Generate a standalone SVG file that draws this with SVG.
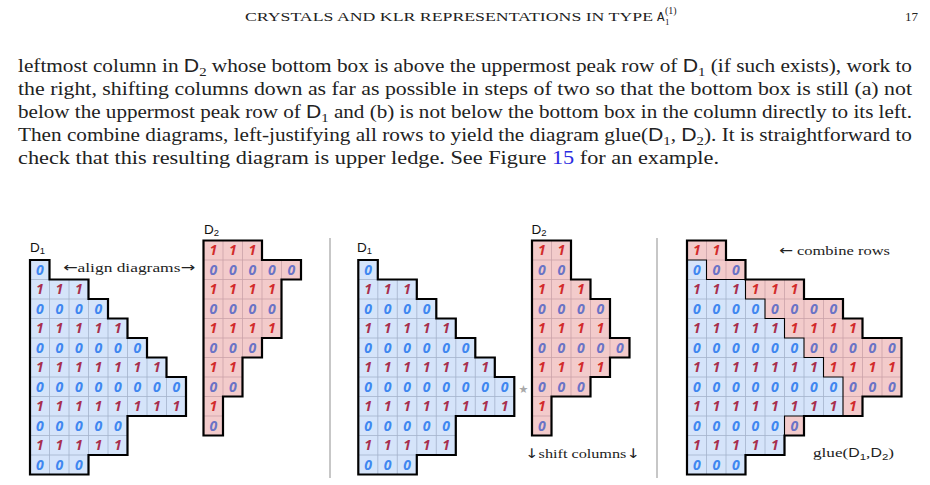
<svg xmlns="http://www.w3.org/2000/svg" xmlns:xlink="http://www.w3.org/1999/xlink" width="930" height="485" viewBox="0 0 930 485">
<style>
.bf{fill:#d5e4fa}
.rf{fill:#f3cbcb}
.bg{fill:none;stroke:#a3b3cc;stroke-width:0.8}
.rg{fill:none;stroke:#caa2a8;stroke-width:0.8}
.ol{fill:none;stroke:#000;stroke-width:2.2;stroke-linejoin:miter}
.il{fill:none;stroke:#000;stroke-width:1.1}
.dg{font-family:"Open Sans","Noto Sans",sans-serif;font-weight:bold;font-style:italic;font-size:14px;text-anchor:middle}
.b0{fill:#3f87f0}.b1{fill:#a8304e}.r1{fill:#d22b2b}.r0{fill:#6a73c6}
.serif{font-family:"Liberation Serif","Times New Roman",serif;fill:#222}
.sf{font-family:"Liberation Sans",Arial,sans-serif}
.ar{font-family:"DejaVu Sans",sans-serif}
.lab{font-family:"Liberation Sans",Arial,sans-serif;font-size:13.5px;fill:#111}
.sep{stroke:#b5b5b5;stroke-width:1.5}
</style>
<defs>
<path id="d1p" d="M0,0 H19.5 V19.5 H58.5 V39 H78 V58.5 H97.5 V78 H117 V97.5 H136.5 V117 H156 V156 H97.5 V195 H58.5 V214.5 H0 Z"/>
<path id="d2p" d="M0,0 H58.5 V19.5 H97.5 V39 H78 V97.5 H58.5 V117 H39 V156 H19.5 V195 H0 Z"/>
<path id="d2sp" d="M0,0 H39 V39 H58.5 V58.5 H78 V97.5 H97.5 V117 H78 V136.5 H58.5 V156 H19.5 V195 H0 Z"/>
<path id="gp" d="M0,0 H39 V19.5 H58.5 V39 H117 V58.5 H156 V78 H175.5 V97.5 H214.5 V156 H175.5 V175.5 H117 V195 H97.5 V214.5 H58.5 V234 H0 Z"/>
<g id="D1body">
<use xlink:href="#d1p" class="bf"/>
<path class="bg" d="M19.5,19.5 V214.5 M39,19.5 V214.5 M58.5,39 V195 M78,58.5 V195 M97.5,78 V156 M117,97.5 V156 M136.5,117 V156 M0,19.5 H19.5 M0,39 H58.5 M0,58.5 H78 M0,78 H97.5 M0,97.5 H117 M0,117 H136.5 M0,136.5 H156 M0,156 H97.5 M0,175.5 H97.5 M0,195 H58.5"/>
<text class="dg b0" x="9.75" y="14.75">0</text>
<text class="dg b1" x="9.75 29.25 48.75" y="34.25">111</text>
<text class="dg b0" x="9.75 29.25 48.75 68.25" y="53.75">0000</text>
<text class="dg b1" x="9.75 29.25 48.75 68.25 87.75" y="73.25">11111</text>
<text class="dg b0" x="9.75 29.25 48.75 68.25 87.75 107.25" y="92.75">000000</text>
<text class="dg b1" x="9.75 29.25 48.75 68.25 87.75 107.25 126.75" y="112.25">1111111</text>
<text class="dg b0" x="9.75 29.25 48.75 68.25 87.75 107.25 126.75 146.25" y="131.75">00000000</text>
<text class="dg b1" x="9.75 29.25 48.75 68.25 87.75 107.25 126.75 146.25" y="151.25">11111111</text>
<text class="dg b0" x="9.75 29.25 48.75 68.25 87.75" y="170.75">00000</text>
<text class="dg b1" x="9.75 29.25 48.75 68.25 87.75" y="190.25">11111</text>
<text class="dg b0" x="9.75 29.25 48.75" y="209.75">000</text>
</g>
</defs>

<g id="header">
<text class="serif" x="245" y="21" font-size="12.5" textLength="408" lengthAdjust="spacingAndGlyphs">CRYSTALS AND KLR REPRESENTATIONS IN TYPE</text>
<text x="657" y="21" font-family="Liberation Mono,monospace" font-size="12.5" fill="#222">A</text>
<text class="serif" x="665" y="24.5" font-size="9">1</text>
<text class="serif" x="665" y="14" font-size="10">(1)</text>
<text class="serif" x="905" y="21" font-size="13">17</text>
</g>

<g id="paragraph" class="serif" font-size="18">
<text x="18" y="72" textLength="894" lengthAdjust="spacingAndGlyphs">leftmost column in <tspan class="sf">D</tspan><tspan font-size="12.5" dy="3.5">2</tspan><tspan dy="-3.5"> whose bottom box is above the uppermost peak row of </tspan><tspan class="sf">D</tspan><tspan font-size="12.5" dy="3.5">1</tspan><tspan dy="-3.5"> (if such exists), work to</tspan></text>
<text x="18" y="95" textLength="894" lengthAdjust="spacingAndGlyphs">the right, shifting columns down as far as possible in steps of two so that the bottom box is still (a) not</text>
<text x="18" y="118" textLength="894" lengthAdjust="spacingAndGlyphs">below the uppermost peak row of <tspan class="sf">D</tspan><tspan font-size="12.5" dy="3.5">1</tspan><tspan dy="-3.5"> and (b) is not below the bottom box in the column directly to its left.</tspan></text>
<text x="18" y="141" textLength="894" lengthAdjust="spacingAndGlyphs">Then combine diagrams, left-justifying all rows to yield the diagram glue(<tspan class="sf">D</tspan><tspan font-size="12.5" dy="3.5">1</tspan><tspan dy="-3.5">, </tspan><tspan class="sf">D</tspan><tspan font-size="12.5" dy="3.5">2</tspan><tspan dy="-3.5">). It is straightforward to</tspan></text>
<text x="18" y="164" textLength="701" lengthAdjust="spacingAndGlyphs">check that this resulting diagram is upper ledge. See Figure <tspan fill="#2a2ae0">15</tspan> for an example.</text>
</g>

<g id="separators">
<line class="sep" x1="330" y1="238" x2="330" y2="478"/>
<line class="sep" x1="657" y1="238" x2="657" y2="478"/>
</g>

<g id="p1-D1" transform="translate(30,260)">
<use xlink:href="#D1body"/>
<use xlink:href="#d1p" class="ol"/>
</g>
<text id="p1-D1-label" class="lab" x="30" y="251.5">D<tspan font-size="9.5" dy="2.5">1</tspan></text>

<g id="p1-D2" transform="translate(203.5,240.5)">
<use xlink:href="#d2p" class="rf"/>
<path class="rg" d="M19.5,0 V156 M39,0 V117 M58.5,19.5 V97.5 M78,19.5 V39 M0,19.5 H58.5 M0,39 H78 M0,58.5 H78 M0,78 H78 M0,97.5 H58.5 M0,117 H39 M0,136.5 H39 M0,156 H19.5 M0,175.5 H19.5"/>
<text class="dg r1" x="9.75 29.25 48.75" y="14.75">111</text>
<text class="dg r0" x="9.75 29.25 48.75 68.25 87.75" y="34.25">00000</text>
<text class="dg r1" x="9.75 29.25 48.75 68.25" y="53.75">1111</text>
<text class="dg r0" x="9.75 29.25 48.75 68.25" y="73.25">0000</text>
<text class="dg r1" x="9.75 29.25 48.75 68.25" y="92.75">1111</text>
<text class="dg r0" x="9.75 29.25 48.75" y="112.25">000</text>
<text class="dg r1" x="9.75 29.25" y="131.75">11</text>
<text class="dg r0" x="9.75 29.25" y="151.25">00</text>
<text class="dg r1" x="9.75" y="170.75">1</text>
<text class="dg r0" x="9.75" y="190.25">0</text>
<use xlink:href="#d2p" class="ol"/>
</g>
<text id="p1-D2-label" class="lab" x="204" y="233.5">D<tspan font-size="9.5" dy="2.5">2</tspan></text>
<text id="align-label" class="serif" x="63" y="272" font-size="13.5" textLength="132" lengthAdjust="spacingAndGlyphs"><tspan class="ar">←</tspan>align diagrams<tspan class="ar">→</tspan></text>

<g id="p2-D1" transform="translate(358.3,260)">
<use xlink:href="#D1body"/>
<use xlink:href="#d1p" class="ol"/>
</g>
<text id="p2-D1-label" class="lab" x="357" y="251.5">D<tspan font-size="9.5" dy="2.5">1</tspan></text>
<text id="star" x="523.5" y="392.5" font-family="DejaVu Sans,sans-serif" font-size="11" fill="#a8a8a8" text-anchor="middle">★</text>

<g id="p2-D2" transform="translate(532,240.5)">
<use xlink:href="#d2sp" class="rf"/>
<path class="rg" d="M19.5,0 V156 M39,39 V156 M58.5,58.5 V136.5 M78,97.5 V117 M0,19.5 H39 M0,39 H39 M0,58.5 H58.5 M0,78 H78 M0,97.5 H78 M0,117 H78 M0,136.5 H58.5 M0,156 H19.5 M0,175.5 H19.5"/>
<text class="dg r1" x="9.75 29.25" y="14.75">11</text>
<text class="dg r0" x="9.75 29.25" y="34.25">00</text>
<text class="dg r1" x="9.75 29.25 48.75" y="53.75">111</text>
<text class="dg r0" x="9.75 29.25 48.75 68.25" y="73.25">0000</text>
<text class="dg r1" x="9.75 29.25 48.75 68.25" y="92.75">1111</text>
<text class="dg r0" x="9.75 29.25 48.75 68.25 87.75" y="112.25">00000</text>
<text class="dg r1" x="9.75 29.25 48.75 68.25" y="131.75">1111</text>
<text class="dg r0" x="9.75 29.25 48.75" y="151.25">000</text>
<text class="dg r1" x="9.75" y="170.75">1</text>
<text class="dg r0" x="9.75" y="190.25">0</text>
<use xlink:href="#d2sp" class="ol"/>
</g>
<text id="p2-D2-label" class="lab" x="531.5" y="233.5">D<tspan font-size="9.5" dy="2.5">2</tspan></text>
<text id="shift-label" class="serif" x="525" y="457.5" font-size="13.5" textLength="115" lengthAdjust="spacingAndGlyphs"><tspan class="ar">↓</tspan>shift columns<tspan class="ar">↓</tspan></text>

<g id="p3-glue" transform="translate(687,240.5)">
<path class="rf" d="M0,0 h39 v19.5 h-39 Z M19.5,19.5 h39 v19.5 h-39 Z M58.5,39 h58.5 v19.5 h-58.5 Z M78,58.5 h78 v19.5 h-78 Z M97.5,78 h78 v19.5 h-78 Z M117,97.5 h97.5 v19.5 h-97.5 Z M136.5,117 h78 v19.5 h-78 Z M156,136.5 h58.5 v19.5 h-58.5 Z M156,156 h19.5 v19.5 h-19.5 Z M97.5,175.5 h19.5 v19.5 h-19.5 Z"/>
<path class="rg" d="M19.5,0 V19.5 M39,19.5 V39 M78,39 V58.5 M97.5,39 V78 M117,58.5 V97.5 M136.5,58.5 V117 M156,78 V136.5 M175.5,97.5 V156 M195,97.5 V156 M19.5,19.5 H39 M78,58.5 H117 M97.5,78 H156 M117,97.5 H175.5 M136.5,117 H214.5 M156,136.5 H214.5 M156,156 H175.5"/>
<text class="dg r1" x="9.75 29.25" y="14.75">11</text>
<text class="dg r0" x="29.25 48.75" y="34.25">00</text>
<text class="dg r1" x="68.25 87.75 107.25" y="53.75">111</text>
<text class="dg r0" x="87.75 107.25 126.75 146.25" y="73.25">0000</text>
<text class="dg r1" x="107.25 126.75 146.25 165.75" y="92.75">1111</text>
<text class="dg r0" x="126.75 146.25 165.75 185.25 204.75" y="112.25">00000</text>
<text class="dg r1" x="146.25 165.75 185.25 204.75" y="131.75">1111</text>
<text class="dg r0" x="165.75 185.25 204.75" y="151.25">000</text>
<text class="dg r1" x="165.75" y="170.75">1</text>
<text class="dg r0" x="107.25" y="190.25">0</text>
<g transform="translate(0,19.5)">
<use xlink:href="#D1body"/>
<use xlink:href="#d1p" class="il"/>
</g>
<use xlink:href="#gp" class="ol"/>
</g>
<text id="combine-label" class="serif" x="779" y="254.5" font-size="13.5" textLength="111" lengthAdjust="spacingAndGlyphs"><tspan class="ar">←</tspan> combine rows</text>
<text id="glue-label" class="serif" x="813" y="457" font-size="13.5" textLength="81" lengthAdjust="spacingAndGlyphs">glue(<tspan class="sf" font-size="12.5">D</tspan><tspan class="sf" font-size="9" dy="2.5">1</tspan><tspan dy="-2.5">,</tspan><tspan class="sf" font-size="12.5">D</tspan><tspan class="sf" font-size="9" dy="2.5">2</tspan><tspan dy="-2.5">)</tspan></text>
</svg>
